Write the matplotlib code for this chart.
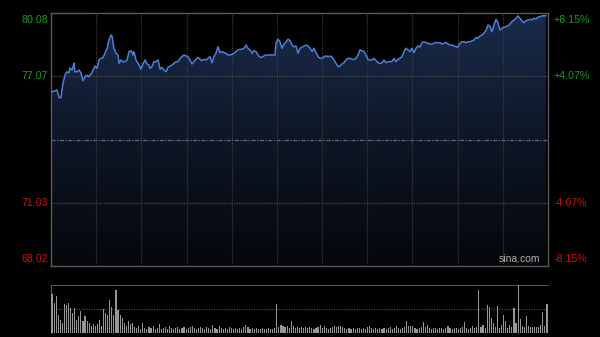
import matplotlib
matplotlib.use("Agg")
import matplotlib.pyplot as plt
import numpy as np
from matplotlib.colors import LinearSegmentedColormap

# ---------------- data ----------------
prev_close = 74.05
price_ticks = [80.08, 77.07, 71.03, 68.02]
pct_labels = ['+8.15%', '+4.07%', '-4.07%', '-8.15%']
session_minutes = 241

minutes = [0.0,1.9,2.9,3.9,4.8,5.8,6.8,7.8,8.7,9.2,10.2,10.7,11.2,11.6,12.6,13.6,14.5,15.5,16.5,17.5,
           18.4,19.4,20.4,21.3,22.3,23.3,24.2,25.2,26.2,27.2,28.1,29.1,29.6,30.5,31.5,32.5,33.0,33.9,34.9,35.9,
           36.9,37.8,38.8,39.8,40.2,41.2,42.7,43.6,44.6,45.6,46.6,47.5,48.0,49.0,49.9,50.9,51.9,52.9,53.8,54.8,
           55.8,56.7,57.7,58.7,59.6,60.6,61.6,62.6,63.5,64.5,65.5,66.4,67.4,68.4,69.3,70.3,71.3,72.3,73.2,74.2,
           75.2,76.1,77.1,78.1,79.0,80.0,81.0,82.0,82.9,83.9,84.9,85.8,86.8,87.8,88.7,89.7,90.7,91.6,92.6,93.6,
           94.6,95.5,96.5,97.5,98.4,99.4,100.4,101.3,102.3,103.3,104.3,105.2,106.2,107.2,108.1,108.6,109.1,110.1,111.0,112.0,
           113.0,114.0,114.9,115.9,116.9,117.8,118.8,119.8,120.7,121.7,122.7,123.7,124.6,125.6,126.6,127.5,128.5,129.5,130.4,131.4,
           132.4,133.4,134.3,135.3,136.3,137.2,138.2,139.2,140.1,141.1,142.1,143.0,144.0,145.0,146.0,146.9,147.9,148.9,149.8,150.8,
           151.8,152.7,153.7,154.7,155.7,156.6,157.6,158.6,159.5,160.5,161.5,162.4,163.4,164.4,165.3,166.3,167.3,168.3,169.2,170.2,
           171.2,172.1,173.1,174.1,175.0,176.0,177.0,178.0,178.9,179.9,180.9,181.8,182.8,183.8,184.7,185.7,186.7,187.7,188.6,189.6,
           190.6,191.5,192.5,193.5,194.4,195.4,196.4,197.3,198.3,199.3,200.3,201.2,202.2,203.2,204.1,205.1,206.1,207.0,208.0,209.0,
           209.9,210.9,211.9,212.9,213.8,214.8,215.8,216.7,217.7,218.7,219.6,220.6,221.6,222.6,223.5,224.5,225.5,226.4,227.4,228.4,
           229.3,230.3,231.3,232.2,233.2,234.2,235.2,236.1,237.1,238.1,239.0,240.0]

prices = [76.33,76.36,76.41,76.06,76.03,76.74,77.12,77.28,77.22,77.46,77.36,77.52,77.70,77.28,77.28,77.36,77.22,76.85,77.04,77.12,
          77.04,77.17,77.36,77.55,77.44,77.84,77.92,77.95,78.16,78.40,78.79,79.03,78.98,78.40,78.16,78.08,77.68,77.84,77.76,77.76,
          77.84,78.24,78.28,78.08,78.24,77.84,77.60,77.40,77.65,77.84,77.65,77.60,77.44,77.52,77.76,77.76,77.84,77.40,77.49,77.36,
          77.28,77.49,77.55,77.60,77.68,77.76,77.76,77.92,78.00,78.08,78.03,78.00,77.84,77.65,77.76,77.87,77.97,77.87,77.81,77.87,
          77.84,77.92,78.00,77.71,78.00,78.16,78.47,78.19,78.24,78.19,78.16,78.08,78.08,78.11,78.16,78.24,78.32,78.35,78.35,78.40,
          78.55,78.40,78.32,78.16,78.28,78.24,78.08,77.97,77.97,78.04,78.08,78.08,78.08,78.08,78.08,78.08,78.64,78.83,78.71,78.40,
          78.60,78.71,78.83,78.76,78.55,78.47,78.51,78.16,78.40,78.45,78.51,78.55,78.51,78.40,78.24,78.40,78.19,78.00,77.92,77.92,
          78.00,78.03,78.00,78.03,77.97,77.84,77.68,77.52,77.55,77.65,77.71,77.84,77.92,77.92,77.87,77.87,77.92,78.08,78.32,78.28,
          78.24,78.08,77.87,77.84,77.84,77.92,77.81,77.71,77.68,77.71,77.84,77.71,77.76,77.76,77.76,77.92,77.76,77.87,77.92,78.00,
          78.24,78.40,78.32,78.24,78.40,78.19,78.40,78.51,78.45,78.66,78.71,78.66,78.64,78.60,78.59,78.64,78.68,78.66,78.66,78.60,
          78.64,78.68,78.60,78.55,78.55,78.51,78.47,78.45,78.64,78.71,78.71,78.66,78.71,78.71,78.75,78.79,78.92,78.87,78.98,79.03,
          79.11,79.24,79.51,79.43,79.19,79.51,79.78,79.62,79.27,79.35,79.40,79.43,79.46,79.56,79.67,79.75,79.83,79.94,79.83,79.71,
          79.62,79.71,79.75,79.78,79.75,79.83,79.79,79.88,79.90,79.94,79.95,79.95]

volumes = [38,29,36,17,12,9,28,27,29,24,19,24,12,16,21,11,16,11,9,6,
           8,6,8,12,6,23,19,17,32,25,17,42,22,17,14,9,6,11,8,9,
           5,4,6,3,9,4,3,5,4,6,3,4,8,3,4,5,3,6,4,3,
           4,5,3,4,5,3,4,5,6,4,3,4,5,
           4,3,5,4,3,7,4,3,6,4,3,4,3,5,4,3,4,3,4,3,
           5,7,5,3,4,3,4,3,3,4,3,3,4,3,3,4,28,5,7,6,
           5,6,4,11,6,4,5,4,5,4,5,4,5,4,3,4,5,7,4,6,
           4,3,4,5,6,5,6,6,5,4,3,4,3,4,3,4,4,3,4,3,
           5,6,4,3,4,3,4,3,4,3,4,5,3,4,6,4,3,4,5,11,
           6,6,6,4,3,4,5,10,5,7,4,3,4,4,3,4,4,3,4,6,
           4,3,4,4,3,4,5,10,4,3,4,6,4,5,42,5,7,4,27,25,
           14,9,5,26,4,7,17,11,4,7,5,24,9,47,13,6,5,16,6,5,
           5,5,5,5,7,20,6,28]

assert len(minutes) == len(prices)

# ---------------- style ----------------
BG = '#000000'
GRID = '#3c3c3c'
SPINE = '#5a5a5a'
GREEN = '#1a9a1a'
RED = '#cc1010'
LINE = '#4a7fd8'
FONT = 'Liberation Sans'

fig = plt.figure(figsize=(6.0, 3.37), dpi=100, facecolor=BG)

ax = fig.add_axes([51/600, 71/337, 497/600, 253/337])
ax.set_facecolor(BG)
ymin, ymax = price_ticks[-1], price_ticks[0]
ax.set_xlim(0, session_minutes)
ax.set_ylim(ymin, ymax)

# gradient fill under price line
poly = ax.fill_between(minutes, prices, ymin, color='none', lw=0)
cmap = LinearSegmentedColormap.from_list('g', ['#05070b', '#0e1626', '#1b2b4b'])
grad = np.linspace(0, 1, 256).reshape(-1, 1)
im = ax.imshow(grad, extent=[0, session_minutes, ymin, ymax], origin='lower',
               aspect='auto', cmap=cmap, zorder=1, interpolation='bilinear')
im.set_clip_path(poly.get_paths()[0], transform=ax.transData)

# grids
for xv in np.linspace(0, session_minutes, 12)[1:-1]:
    ax.axvline(xv, color=GRID, lw=0.9, ls=(0, (1, 1)), zorder=2)
for yv in price_ticks[1:-1]:
    ax.axhline(yv, color='#4a4a4a', lw=0.9, ls=(0, (1, 1)), zorder=2)
ax.axhline(prev_close, color='#5c6470', lw=1.0, ls=(0, (3, 1, 1, 1)), zorder=2)

ax.plot(minutes, prices, color=LINE, lw=1.1, zorder=3)

for s in ax.spines.values():
    s.set_color(SPINE)
    s.set_linewidth(1.0)
ax.set_xticks([])
ax.set_yticks([])

# labels
vas = ['top', 'center', 'center', 'bottom']
offs = [-1.5, 0, 0, 1.5]
for i, (pv, pl) in enumerate(zip(price_ticks, pct_labels)):
    col = GREEN if pv > prev_close else RED
    ax.annotate(f'{pv:.2f}', xy=(0, pv), xycoords=('axes fraction', 'data'),
                xytext=(-2, offs[i]), textcoords='offset points', ha='right', va=vas[i],
                color=col, fontsize=7.7, family=FONT)
    ax.annotate(pl, xy=(1, pv), xycoords=('axes fraction', 'data'),
                xytext=(4, offs[i]), textcoords='offset points', ha='left', va=vas[i],
                color=col, fontsize=7.7, family=FONT)

ax.text(0.985, 0.008, 'sina.com', transform=ax.transAxes, ha='right', va='bottom',
        color='#b0b0b0', fontsize=7.5, family=FONT, zorder=4)

# ---------------- volume ----------------
vax = fig.add_axes([51/600, 4.5/337, 497/600, 47.5/337])
vax.set_facecolor(BG)
vax.set_xlim(0, session_minutes)
vax.set_ylim(0, max(volumes))
vax.bar(np.arange(len(volumes)) + 0.5, volumes, width=0.55, color='#969696', lw=0, zorder=3)
vax.axhline(max(volumes) / 2, color='#4a4a4a', lw=0.9, ls=(0, (1, 1)), zorder=1)
for k in ['right', 'bottom']:
    vax.spines[k].set_visible(False)
vax.spines['top'].set_color('#555555')
vax.spines['top'].set_linestyle((0, (1, 1)))
vax.spines['left'].set_color(SPINE)
vax.set_xticks([])
vax.set_yticks([])

fig.savefig('out.png', dpi=100, facecolor=BG)
